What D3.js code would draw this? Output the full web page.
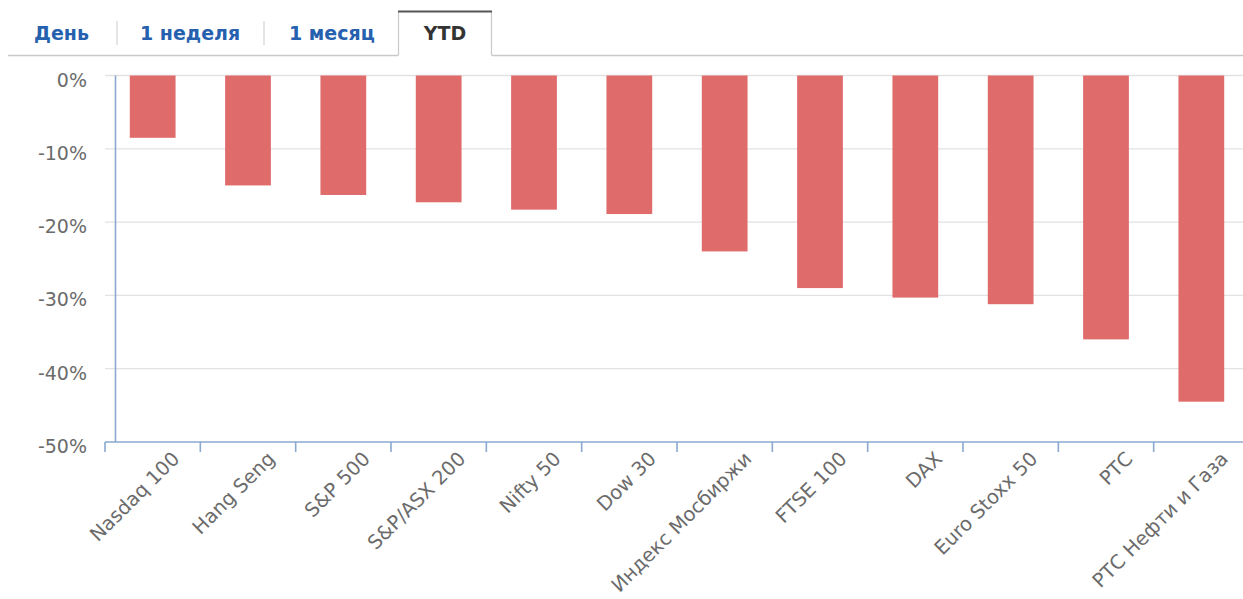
<!DOCTYPE html>
<html><head><meta charset="utf-8">
<script src="https://cdn.jsdelivr.net/npm/d3@7"></script>
<style>
html,body{margin:0;padding:0;background:#fff;}
svg{display:block;}
</style></head>
<body>
<svg id="chart" width="1243" height="599"></svg>
<script>
const categories = ["Nasdaq 100","Hang Seng","S&P 500","S&P/ASX 200","Nifty 50","Dow 30","Индекс Мосбиржи","FTSE 100","DAX","Euro Stoxx 50","РТС","РТС Нефти и Газа"];
const values = [-8.5,-15.0,-16.3,-17.3,-18.3,-18.9,-24.0,-29.0,-30.3,-31.2,-36.0,-44.5];
const yTicks = [0,-10,-20,-30,-40,-50];
const tabs = ["День","1 неделя","1 месяц","YTD"];

(function(){
const svg = d3.select("#chart");
const W = 1243;
const pLeft = 105, pRight = 1249, pTop = 75.5, pBottom = 442;
const font = "'DejaVu Sans', Verdana, sans-serif";

// Tabs
const tabG = svg.append("g");
const tabX = [34, 140, 289, 445];
tabG.append("line").attr("x1",8).attr("x2",398).attr("y1",55.5).attr("y2",55.5).attr("stroke","#c9c9c9").attr("stroke-width",1.5);
tabG.append("line").attr("x1",492).attr("x2",W).attr("y1",55.5).attr("y2",55.5).attr("stroke","#c9c9c9").attr("stroke-width",1.5);
tabG.append("path").attr("d","M398.5,55.5 V11.5 H491.5 V55.5").attr("fill","none").attr("stroke","#c9c9c9").attr("stroke-width",1.2);
tabG.append("line").attr("x1",398).attr("x2",492).attr("y1",11.5).attr("y2",11.5).attr("stroke","#555").attr("stroke-width",2.2);
[117,264].forEach(xx=>tabG.append("line").attr("x1",xx).attr("x2",xx).attr("y1",21).attr("y2",45).attr("stroke","#dcdcdc").attr("stroke-width",1.5));
tabs.forEach((t,i)=>{
  tabG.append("text").attr("x",tabX[i]).attr("y",40)
    .attr("text-anchor", i===3 ? "middle" : "start")
    .attr("font-family",font).attr("font-weight","bold").attr("font-size","19px")
    .attr("fill", i===3 ? "#333" : "#2561ae").text(t);
});

// Scales
const x = d3.scaleBand().domain(categories).range([pLeft,pRight]).paddingInner(0.52).paddingOuter(0.26);
const y = d3.scaleLinear().domain([-50,0]).range([pBottom,pTop]);

// Gridlines
svg.append("g").selectAll("line").data(yTicks.filter(d=>d!==-50)).join("line")
  .attr("x1",pLeft).attr("x2",W).attr("y1",d=>y(d)).attr("y2",d=>y(d))
  .attr("stroke","#e2e2e2").attr("stroke-width",1.3);

// Y labels
svg.append("g").selectAll("text").data(yTicks).join("text")
  .attr("x",87).attr("y",d=>y(d)+11)
  .attr("text-anchor","end").attr("font-family",font).attr("font-size","19px").attr("fill","#6b6b6b")
  .text(d=>d+"%");

// Bars
svg.append("g").selectAll("rect").data(values).join("rect")
  .attr("x",(d,i)=>x(categories[i])).attr("width",x.bandwidth())
  .attr("y",y(0)).attr("height",d=>y(d)-y(0))
  .attr("fill","#e06b6b");

// Y axis line
svg.append("line").attr("x1",115.5).attr("x2",115.5).attr("y1",pTop).attr("y2",pBottom)
  .attr("stroke","#8aa8d2").attr("stroke-width",1.6);

// X axis
const step = x.step();
const bounds = d3.range(categories.length+1).map(i=>pLeft + i*step);
svg.append("line").attr("x1",pLeft).attr("x2",W).attr("y1",pBottom).attr("y2",pBottom)
  .attr("stroke","#8aa8d2").attr("stroke-width",1.6);
svg.append("g").selectAll("line").data(bounds).join("line")
  .attr("x1",d=>d).attr("x2",d=>d).attr("y1",pBottom).attr("y2",pBottom+10)
  .attr("stroke","#8aa8d2").attr("stroke-width",1.6);

// X labels
svg.append("g").selectAll("text").data(categories).join("text")
  .attr("transform",d=>`translate(${x(d)+x.bandwidth()/2+28},${pBottom+18}) rotate(-45)`)
  .attr("text-anchor","end").attr("font-family",font).attr("font-size","19.5px").attr("fill","#6b6b6b")
  .text(d=>d);
})();
</script>
</body></html>
